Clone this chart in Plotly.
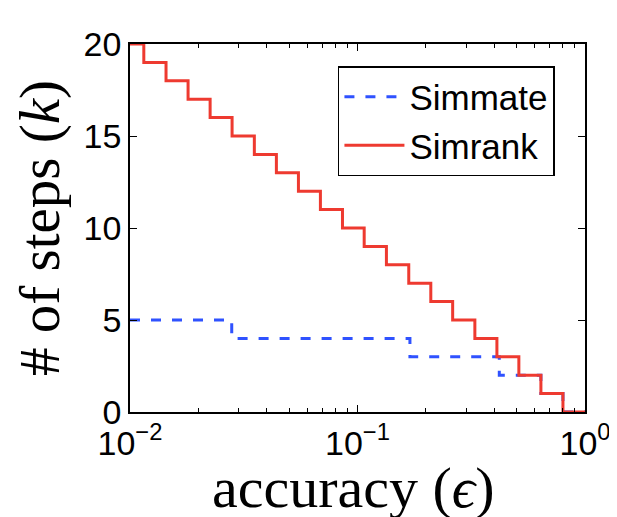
import plotly.graph_objects as go

# Simrank: number of steps k vs accuracy epsilon (step breakpoints)
simrank_eps = [0.01, 0.0115, 0.0144, 0.018, 0.0225, 0.0281, 0.0352, 0.044, 0.055,
               0.0687, 0.0859, 0.107, 0.134, 0.168, 0.21, 0.262, 0.328, 0.41,
               0.512, 0.64, 0.8, 1.0]
simrank_k = [20, 19, 18, 17, 16, 15, 14, 13, 12, 11, 10, 9, 8, 7, 6, 5, 4, 3, 2, 1, 0, 0]

# Simmate
simmate_eps = [0.01, 0.028, 0.17, 0.42, 0.64, 0.8, 1.0]
simmate_k = [5, 4, 3, 2, 1, 0, 0]

x_tickvals = [0.01, 0.1, 1.0]
x_ticktext = ["10<sup>−2</sup>", "10<sup>−1</sup>", "10<sup>0</sup>"]
x_minor = [0.02, 0.03, 0.04, 0.05, 0.06, 0.07, 0.08, 0.09,
           0.2, 0.3, 0.4, 0.5, 0.6, 0.7, 0.8, 0.9]
y_tickvals = [0, 5, 10, 15, 20]

fig = go.Figure()
fig.add_trace(go.Scatter(
    x=simmate_eps, y=simmate_k, mode="lines", name="Simmate",
    line=dict(color="#2f52ff", width=3, dash="10px,11px", shape="hv"),
))
fig.add_trace(go.Scatter(
    x=simrank_eps, y=simrank_k, mode="lines", name="Simrank",
    line=dict(color="#ee3a30", width=3, shape="hv"),
))

serif = "Liberation Serif, Times New Roman, serif"

# page body has an 8px margin, so the figure is 8px smaller than the window
fig.update_layout(
    width=609, height=509,
    margin=dict(l=122, r=32, t=36, b=105),
    paper_bgcolor="white", plot_bgcolor="white",
    font=dict(family="Liberation Sans, Arial, sans-serif", size=34, color="black"),
    showlegend=True,
    legend=dict(
        x=0.457, y=0.94, xanchor="left", yanchor="top",
        bgcolor="white", bordercolor="black", borderwidth=1.5,
        font=dict(size=35), itemwidth=60, tracegroupgap=0,
    ),
    xaxis=dict(
        type="log", range=[-2, 0], automargin=False,
        tickmode="array", tickvals=x_tickvals, ticktext=x_ticktext,
        ticks="inside", ticklen=7, tickwidth=1, tickcolor="black",
        minor=dict(tickmode="array", tickvals=x_minor, ticks="inside",
                   ticklen=4, tickwidth=1, tickcolor="black", showgrid=False),
        showline=True, linecolor="black", linewidth=1.5, mirror="ticks",
        showgrid=False, zeroline=False,
        tickfont=dict(size=34),
    ),
    yaxis=dict(
        range=[0, 20], automargin=False,
        tickmode="array", tickvals=y_tickvals,
        ticks="inside", ticklen=7, tickwidth=1, tickcolor="black",
        showline=True, linecolor="black", linewidth=1.5, mirror="ticks",
        showgrid=False, zeroline=False,
        tickfont=dict(size=34),
        title=dict(text="# of steps (<i>k</i>)", standoff=40,
                   font=dict(family=serif, size=57)),
    ),
    annotations=[dict(
        text="accuracy (<i>ϵ</i>)", xref="paper", yref="paper",
        x=0.492, y=0, xanchor="center", yanchor="top", yshift=-41,
        showarrow=False, font=dict(family=serif, size=58, color="black"),
    )],
)

fig.write_html("out.html")
